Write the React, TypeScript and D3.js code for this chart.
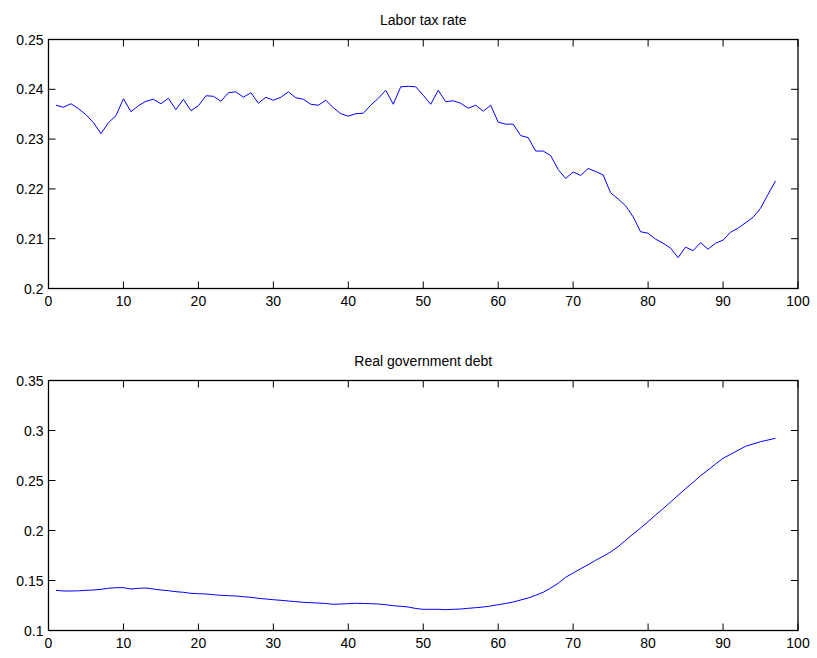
import React from "react";
import * as d3 from "d3";

const periods: number[] = Array.from({ length: 97 }, (_, i) => i + 1);

const laborTax: number[] = [
  0.2368, 0.2364, 0.2371, 0.2361, 0.2349, 0.2333, 0.2311, 0.2333, 0.2347, 0.2381,
  0.2355, 0.2367, 0.2376, 0.2380, 0.2371, 0.2382, 0.2359, 0.2380, 0.2357, 0.2367,
  0.2387, 0.2386, 0.2376, 0.2393, 0.2395, 0.2384, 0.2393, 0.2372, 0.2384, 0.2378,
  0.2384, 0.2395, 0.2383, 0.2380, 0.2370, 0.2368, 0.2378, 0.2363, 0.2351, 0.2346,
  0.2351, 0.2352, 0.2368, 0.2382, 0.2398, 0.2370, 0.2405, 0.2406, 0.2405, 0.2388,
  0.2370, 0.2398, 0.2375, 0.2377, 0.2372, 0.2362, 0.2368, 0.2356, 0.2368, 0.2334,
  0.2330, 0.2330, 0.2307, 0.2303, 0.2276, 0.2276, 0.2267, 0.2239, 0.2221, 0.2234,
  0.2227, 0.2241, 0.2235, 0.2228, 0.2192, 0.2180, 0.2166, 0.2144, 0.2114, 0.2111,
  0.2099, 0.2091, 0.2081, 0.2062, 0.2083, 0.2076, 0.2092, 0.2079, 0.2091, 0.2097,
  0.2113, 0.2121, 0.2132, 0.2143, 0.2161, 0.2189, 0.2216,
];

const govDebt: number[] = [
  0.1402, 0.1395, 0.1395, 0.1397, 0.1402, 0.1405, 0.1412, 0.1422, 0.1428, 0.1428,
  0.1415, 0.1422, 0.1425, 0.1415, 0.1405, 0.1398, 0.1388, 0.1382, 0.1372, 0.1368,
  0.1365, 0.1358, 0.1352, 0.1348, 0.1345, 0.1338, 0.1332, 0.1322, 0.1315, 0.1308,
  0.1302, 0.1295, 0.1288, 0.1282, 0.1278, 0.1275, 0.1270, 0.1262, 0.1265, 0.1268,
  0.1272, 0.1270, 0.1268, 0.1265, 0.1258, 0.1248, 0.1242, 0.1235, 0.1220, 0.1212,
  0.1212, 0.1212, 0.1208, 0.1212, 0.1215, 0.1222, 0.1228, 0.1235, 0.1245, 0.1258,
  0.1270, 0.1285, 0.1305, 0.1325, 0.1352, 0.1382, 0.1425, 0.1472, 0.1532, 0.1575,
  0.1618, 0.1658, 0.1702, 0.1742, 0.1785, 0.1838, 0.1902, 0.1965, 0.2025, 0.2088,
  0.2155, 0.2218, 0.2285, 0.2352, 0.2418, 0.2482, 0.2548, 0.2605, 0.2665, 0.2722,
  0.2762, 0.2802, 0.2842, 0.2865, 0.2888, 0.2905, 0.2922,
];

const xTicks: number[] = [0, 10, 20, 30, 40, 50, 60, 70, 80, 90, 100];
const taxTicks: number[] = [0.2, 0.21, 0.22, 0.23, 0.24, 0.25];
const taxTickLabels: string[] = ["0.2", "0.21", "0.22", "0.23", "0.24", "0.25"];
const debtTicks: number[] = [0.1, 0.15, 0.2, 0.25, 0.3, 0.35];
const debtTickLabels: string[] = ["0.1", "0.15", "0.2", "0.25", "0.3", "0.35"];

const W = 817;
const H = 658;
const FONT = "'Liberation Sans', Arial, Helvetica, sans-serif";
const FS = 14;

type PanelProps = {
  title: string;
  values: number[];
  yDomain: [number, number];
  yTicks: number[];
  yLabels: string[];
  top: number;
  bottom: number;
};

function Panel({ title, values, yDomain, yTicks, yLabels, top, bottom }: PanelProps) {
  const left = 48.5;
  const right = 798;
  const x = d3.scaleLinear().domain([0, 100]).range([left, right]);
  const y = d3.scaleLinear().domain(yDomain).range([bottom, top]);
  const line = d3
    .line<number>()
    .x((_, i) => x(periods[i]))
    .y((d) => y(d));
  const tl = 7;
  return (
    <g>
      <text
        x={(left + right) / 2}
        y={top - 15}
        textAnchor="middle"
        fontFamily={FONT}
        fontSize={FS}
        fill="#000"
      >
        {title}
      </text>
      <path d={line(values) || ""} fill="none" stroke="#0000ff" strokeWidth={1} />
      {xTicks.map((t) => (
        <g key={"x" + t}>
          <line x1={x(t)} x2={x(t)} y1={bottom} y2={bottom - tl} stroke="#000" strokeWidth={1} />
          <line x1={x(t)} x2={x(t)} y1={top} y2={top + tl} stroke="#000" strokeWidth={1} />
          <text
            x={x(t)}
            y={bottom + 17}
            textAnchor="middle"
            fontFamily={FONT}
            fontSize={FS}
            fill="#000"
          >
            {String(t)}
          </text>
        </g>
      ))}
      {yTicks.map((t, i) => (
        <g key={"y" + t}>
          <line x1={left} x2={left + tl} y1={y(t)} y2={y(t)} stroke="#000" strokeWidth={1} />
          <line x1={right} x2={right - tl} y1={y(t)} y2={y(t)} stroke="#000" strokeWidth={1} />
          <text
            x={left - 5}
            y={y(t) + 5}
            textAnchor="end"
            fontFamily={FONT}
            fontSize={FS}
            fill="#000"
          >
            {yLabels[i]}
          </text>
        </g>
      ))}
      <rect
        x={left}
        y={top}
        width={right - left}
        height={bottom - top}
        fill="none"
        stroke="#000"
        strokeWidth={1.3}
      />
    </g>
  );
}

export default function App() {
  return (
    <svg
      width={W}
      height={H}
      viewBox={`0 0 ${W} ${H}`}
      style={{ position: "absolute", left: 0, top: 0, background: "#fff" }}
    >
      <rect x={0} y={0} width={W} height={H} fill="#fff" />
      <Panel
        title="Labor tax rate"
        values={laborTax}
        yDomain={[0.2, 0.25]}
        yTicks={taxTicks}
        yLabels={taxTickLabels}
        top={39.5}
        bottom={288.5}
      />
      <Panel
        title="Real government debt"
        values={govDebt}
        yDomain={[0.1, 0.35]}
        yTicks={debtTicks}
        yLabels={debtTickLabels}
        top={380.5}
        bottom={630.5}
      />
    </svg>
  );
}
